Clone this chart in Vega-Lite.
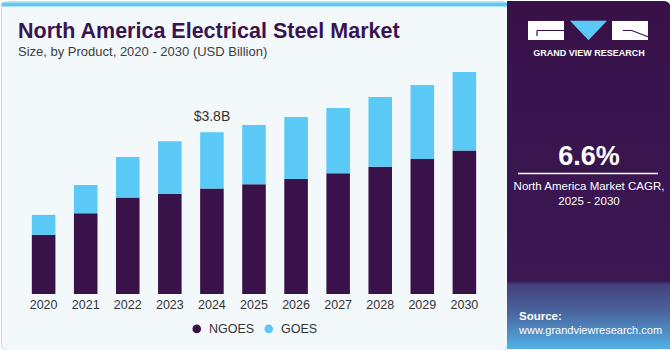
{
  "$schema": "https://vega.github.io/schema/vega-lite/v6.json",
  "padding": 0,
  "spacing": 0,
  "bounds": "flush",
  "background": "#ffffff",
  "config": {"font": "Liberation Sans", "view": {"stroke": null}},
  "hconcat": [
    {
      "width": 506,
      "height": 349,
      "view": {"fill": "#f3f8fb", "stroke": "#cfd4d8", "cornerRadius": 6},
      "title": {
        "text": "North America Electrical Steel Market",
        "subtitle": "Size, by Product, 2020 - 2030 (USD Billion)",
        "anchor": "start",
        "frame": "group",
        "offset": -58,
        "dx": 17,
        "fontSize": 21.5,
        "fontWeight": "bold",
        "color": "#3a1450",
        "subtitleFontSize": 13,
        "subtitleColor": "#3d3d3d",
        "subtitlePadding": 4
      },
      "resolve": {"axis": {"x": "independent"}},
      "layer": [
        {
          "data": {"values": [
            {"year": "2020", "product": "NGOES", "value": 1.39}, {"year": "2020", "product": "GOES", "value": 0.47},
            {"year": "2021", "product": "NGOES", "value": 1.90}, {"year": "2021", "product": "GOES", "value": 0.66},
            {"year": "2022", "product": "NGOES", "value": 2.27}, {"year": "2022", "product": "GOES", "value": 0.95},
            {"year": "2023", "product": "NGOES", "value": 2.35}, {"year": "2023", "product": "GOES", "value": 1.24},
            {"year": "2024", "product": "NGOES", "value": 2.48}, {"year": "2024", "product": "GOES", "value": 1.32},
            {"year": "2025", "product": "NGOES", "value": 2.58}, {"year": "2025", "product": "GOES", "value": 1.39},
            {"year": "2026", "product": "NGOES", "value": 2.70}, {"year": "2026", "product": "GOES", "value": 1.46},
            {"year": "2027", "product": "NGOES", "value": 2.84}, {"year": "2027", "product": "GOES", "value": 1.53},
            {"year": "2028", "product": "NGOES", "value": 2.99}, {"year": "2028", "product": "GOES", "value": 1.64},
            {"year": "2029", "product": "NGOES", "value": 3.17}, {"year": "2029", "product": "GOES", "value": 1.74},
            {"year": "2030", "product": "NGOES", "value": 3.37}, {"year": "2030", "product": "GOES", "value": 1.85}
          ]},
          "mark": {"type": "bar"},
          "encoding": {
            "x": {
              "field": "year", "type": "ordinal",
              "scale": {"paddingInner": 0.44, "paddingOuter": 0.733},
              "axis": {"orient": "bottom", "offset": -56, "title": null, "domain": false, "ticks": false, "labelAngle": 0, "labelPadding": 4, "labelFontSize": 12.5, "labelColor": "#333333"}
            },
            "y": {
              "field": "value", "type": "quantitative", "aggregate": "sum", "stack": "zero",
              "scale": {"domain": [-1.316, 6.886], "nice": false, "zero": false},
              "axis": null
            },
            "color": {
              "field": "product", "type": "nominal",
              "scale": {"domain": ["NGOES", "GOES"], "range": ["#381249", "#5bc9f6"]},
              "legend": {
                "orient": "none", "legendX": 189.5, "legendY": 321.5, "direction": "horizontal",
                "title": null, "symbolType": "circle", "symbolSize": 75, "labelFontSize": 12.5,
                "labelColor": "#333333", "labelOffset": 6, "columnPadding": 8, "padding": 0
              }
            },
            "order": {"field": "product", "sort": "descending"}
          }
        },
        {
          "data": {"values": [{"year": "2024", "total": 3.8, "label": "$3.8B"}]},
          "mark": {"type": "text", "baseline": "alphabetic", "dy": -11, "fontSize": 14, "color": "#333333"},
          "encoding": {
            "x": {"field": "year", "type": "ordinal", "axis": {"orient": "top", "offset": -3, "domainColor": "#5ec7f2", "domainWidth": 4, "labels": false, "ticks": false, "title": null}},
            "y": {"field": "total", "type": "quantitative"},
            "text": {"field": "label"}
          }
        }
      ]
    },
    {
      "width": 164,
      "height": 348,
      "layer": [
        {
          "data": {"values": [{"panel": "background"}]},
          "mark": {
            "type": "rect",
            "cornerRadiusTopRight": 7,
            "color": {
              "gradient": "linear", "x1": 0, "y1": 0, "x2": 0, "y2": 1,
              "stops": [
                {"offset": 0, "color": "#381148"},
                {"offset": 0.805, "color": "#3b1853"},
                {"offset": 0.815, "color": "#45407a"},
                {"offset": 0.9, "color": "#4a68a2"},
                {"offset": 1, "color": "#52b2e6"}
              ]
            }
          },
          "encoding": {}
        },
        {
          "data": {"values": [{"part": "G"}]},
          "mark": {"type": "point", "shape": "M-1,-0.528H1V0.528H-1Z", "size": 1296, "filled": true, "opacity": 1, "color": "#ffffff", "xOffset": -43, "yOffset": -144.5},
          "encoding": {}
        },
        {
          "data": {"values": [{"part": "G notch"}]},
          "mark": {"type": "point", "shape": "M-0.5,0H1M-0.5,0V0.3", "size": 1296, "filled": false, "opacity": 1, "strokeWidth": 1.2, "color": "#381148", "xOffset": -43, "yOffset": -144.5},
          "encoding": {}
        },
        {
          "data": {"values": [{"part": "triangle"}]},
          "mark": {"type": "point", "shape": "M-1,-0.528H1L0,0.528Z", "size": 1369, "filled": true, "opacity": 1, "color": "#5bc9f6", "xOffset": -0.5, "yOffset": -144.5},
          "encoding": {}
        },
        {
          "data": {"values": [{"part": "R"}]},
          "mark": {"type": "point", "shape": "M-1,-0.528H1V0.528H-1Z", "size": 1296, "filled": true, "opacity": 1, "color": "#ffffff", "xOffset": 41, "yOffset": -144.5},
          "encoding": {}
        },
        {
          "data": {"values": [{"part": "R stroke"}]},
          "mark": {"type": "point", "shape": "M-0.4,0H0.1L1,0.35", "size": 1296, "filled": false, "opacity": 1, "strokeWidth": 1.2, "color": "#381148", "xOffset": 41, "yOffset": -144.5},
          "encoding": {}
        },
        {
          "data": {"values": [{"text": "GRAND VIEW RESEARCH"}]},
          "mark": {"type": "text", "fontSize": 9, "fontWeight": "bold", "letterSpacing": 0.5, "color": "#ffffff", "baseline": "alphabetic", "dy": -119.5},
          "encoding": {"text": {"field": "text"}}
        },
        {
          "data": {"values": [{"text": "6.6%"}]},
          "mark": {"type": "text", "fontSize": 27, "fontWeight": "bold", "color": "#ffffff", "baseline": "alphabetic", "dy": -10},
          "encoding": {"text": {"field": "text"}}
        },
        {
          "data": {"values": [{"divider": "cagr"}]},
          "mark": {"type": "rule", "color": "#ffffff", "strokeWidth": 1.5},
          "encoding": {"x": {"value": 11}, "x2": {"value": 151}, "y": {"value": 172.5}}
        },
        {
          "data": {"values": [{"text": "North America Market CAGR,"}]},
          "mark": {"type": "text", "fontSize": 11.5, "color": "#ffffff", "baseline": "alphabetic", "dy": 14.5},
          "encoding": {"text": {"field": "text"}}
        },
        {
          "data": {"values": [{"text": "2025 - 2030"}]},
          "mark": {"type": "text", "fontSize": 11.5, "color": "#ffffff", "baseline": "alphabetic", "dy": 30},
          "encoding": {"text": {"field": "text"}}
        },
        {
          "data": {"values": [{"text": "Source:"}]},
          "mark": {"type": "text", "fontSize": 11.5, "fontWeight": "bold", "color": "#ffffff", "align": "left", "baseline": "alphabetic", "dx": -70, "dy": 145},
          "encoding": {"text": {"field": "text"}}
        },
        {
          "data": {"values": [{"text": "www.grandviewresearch.com"}]},
          "mark": {"type": "text", "fontSize": 11, "color": "#ffffff", "align": "left", "baseline": "alphabetic", "dx": -70, "dy": 158.5},
          "encoding": {"text": {"field": "text"}}
        }
      ]
    }
  ]
}
